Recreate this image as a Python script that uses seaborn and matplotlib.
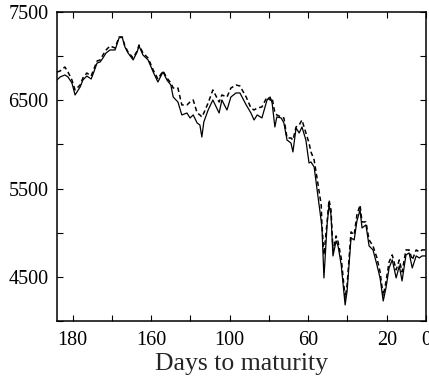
import numpy as np
import matplotlib
matplotlib.use("Agg")
import matplotlib.pyplot as plt
import seaborn as sns

# -------------------------------
# Data
# -------------------------------
# observation position along the axis (10 units between ticks)
t = [0, 0.8, 2.0, 2.8, 3.8, 4.6, 5.9, 6.6, 7.6, 8.7, 9.2, 10.2, 11.0, 11.7,
     12.5, 13.5, 14.8, 15.8, 16.6, 17.3, 18.1, 19.4, 20.4, 20.9, 21.9, 23.2,
     24.5, 25.7, 27.0, 28.0, 29.0, 29.6, 30.8, 31.8, 33.1, 33.9, 34.7, 35.7,
     36.4, 36.9, 37.4, 38.5, 39.7, 41.3, 42.0, 43.3, 44.3, 45.6, 46.6, 48.2,
     49.4, 50.2, 51.0, 52.2, 53.5, 54.3, 54.8, 55.5, 56.0, 57.1, 57.8, 58.6,
     59.6, 60.1, 60.9, 61.7, 62.4, 63.4, 64.2, 64.7, 65.5, 66.2, 67.3, 67.5,
     68.0, 68.8, 69.3, 69.8, 70.3, 71.1, 71.6, 72.4, 73.4, 73.9, 74.9, 75.7,
     76.4, 77.2, 77.7, 78.7, 79.5, 80.5, 81.5, 82.3, 83.1, 83.8, 84.6, 85.4,
     86.4, 87.2, 87.9, 88.9, 89.7, 90.5, 91.5, 92.3, 93.0, 94.0]

solid = [6730, 6764, 6787, 6764, 6696, 6560, 6651, 6730, 6775, 6741, 6798,
         6922, 6934, 6979, 7036, 7070, 7070, 7206, 7217, 7104, 7036, 6957,
         7047, 7115, 7013, 6957, 6821, 6707, 6821, 6730, 6673, 6537, 6481,
         6334, 6356, 6300, 6334, 6243, 6220, 6084, 6254, 6390, 6503, 6356,
         6503, 6390, 6537, 6583, 6583, 6447, 6356, 6277, 6334, 6300, 6503,
         6537, 6469, 6198, 6311, 6300, 6243, 6050, 6016, 5915, 6186, 6130,
         6198, 6050, 5790, 5801, 5745, 5507, 5133, 5054, 4488, 5088, 5314,
         5201, 4737, 4907, 4850, 4635, 4182, 4340, 4941, 4918, 5133, 5258,
         5054, 5088, 4850, 4805, 4635, 4488, 4227, 4374, 4601, 4692, 4488,
         4624, 4454, 4748, 4771, 4601, 4737, 4714, 4737, 4737]

dashed = [6820, 6832, 6877, 6820, 6730, 6617, 6673, 6753, 6809, 6775, 6832,
          6945, 6957, 7013, 7070, 7115, 7092, 7217, 7217, 7115, 7047, 6979,
          7058, 7126, 7036, 6979, 6843, 6741, 6832, 6753, 6696, 6639, 6639,
          6447, 6447, 6481, 6503, 6356, 6334, 6311, 6356, 6469, 6617, 6481,
          6560, 6537, 6639, 6673, 6662, 6537, 6413, 6390, 6413, 6424, 6537,
          6503, 6526, 6356, 6334, 6311, 6300, 6073, 6073, 6050, 6198, 6220,
          6277, 6130, 6016, 5915, 5824, 5631, 5314, 5088, 4748, 5122, 5371,
          5258, 4805, 4964, 4896, 4714, 4261, 4408, 5009, 4975, 5201, 5314,
          5122, 5122, 4918, 4850, 4714, 4556, 4284, 4442, 4669, 4748, 4579,
          4692, 4556, 4805, 4805, 4692, 4805, 4782, 4805, 4805]

xtick_pos = [4, 14, 24, 34, 44, 54, 64, 74, 84, 94]
xtick_labels = ["180", "", "160", "", "100", "", "60", "", "20", "0"]
ytick_pos = [4000, 4500, 5000, 5500, 6000, 6500, 7000, 7500]
ytick_labels = ["", "4500", "", "5500", "", "6500", "", "7500"]

# -------------------------------
# Plot
# -------------------------------
sns.set_style("ticks")
plt.rcParams["font.family"] = ["Liberation Serif", "DejaVu Serif"]

fig = plt.figure(figsize=(4.29, 3.77), dpi=100)
ax = fig.add_axes([57 / 429, 56 / 377, 369 / 429, 309 / 377])

sns.lineplot(x=t, y=solid, color="black", lw=0.9, ax=ax, sort=False)
sns.lineplot(x=t, y=dashed, color="black", lw=1.1, ax=ax, sort=False,
             dashes=False, linestyle=(0, (3, 2)))

ax.set_xlim(0, 94)
ax.set_ylim(4000, 7500)
ax.set_xticks(xtick_pos)
ax.set_xticklabels(xtick_labels)
ax.set_yticks(ytick_pos)
ax.set_yticklabels(ytick_labels)

ax.tick_params(direction="in", length=4, width=0.8, top=True, right=True,
               labelsize=14.5, colors="black")
ax.tick_params(axis="y", pad=6)
ax.tick_params(axis="x", pad=7.5)
for s in ax.spines.values():
    s.set_visible(True)
    s.set_linewidth(1.1)
    s.set_color("black")

ax.set_xlabel("Days to maturity", fontsize=18.5, labelpad=2)
ax.set_ylabel("")

fig.savefig("out.png", dpi=100)
